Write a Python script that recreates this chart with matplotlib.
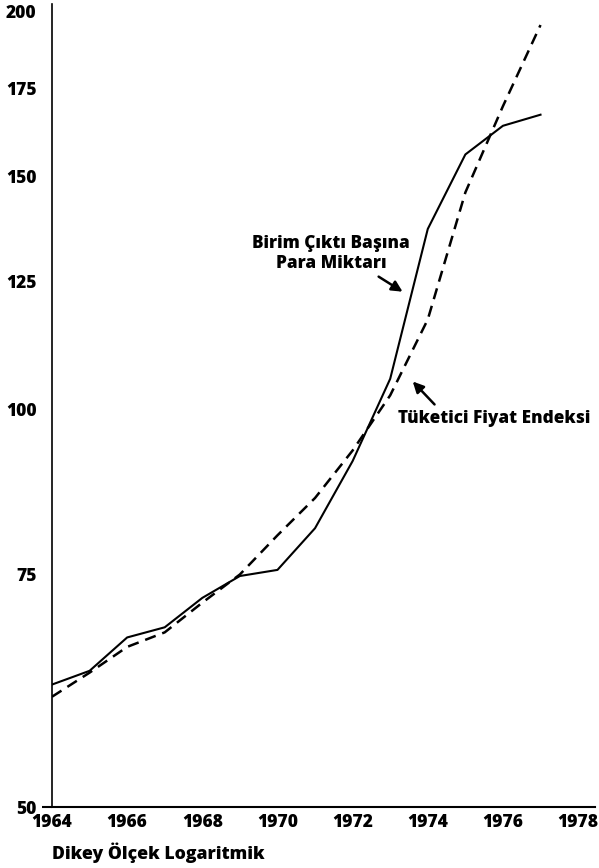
import matplotlib.pyplot as plt
from matplotlib.ticker import FixedLocator, NullLocator

plt.rcParams['font.family'] = ['Open Sans', 'DejaVu Sans']
plt.rcParams['font.weight'] = 'bold'

years = [1964, 1965, 1966, 1967, 1968, 1969, 1970, 1971, 1972, 1973, 1974, 1975, 1976, 1977]
birim_maliyet = [61.9, 63.4, 67.2, 68.4, 72.0, 74.8, 75.6, 81.3, 91.4, 105.5, 137.0, 156.0, 164.0, 167.2]
tufe = [60.6, 63.2, 66.1, 67.8, 71.4, 75.0, 80.3, 85.7, 93.1, 102.5, 117.0, 146.0, 169.7, 195.5]

x_ticks = [1964, 1966, 1968, 1970, 1972, 1974, 1976, 1978]
y_ticks = [50, 75, 100, 125, 150, 175, 200]

fig = plt.figure(figsize=(5.99, 8.68), dpi=100)
ax = fig.add_axes([52/599, 1-807/868, (595-52)/599, (807-4)/868])

ax.plot(years, birim_maliyet, color='black', lw=1.5)
ax.plot(years, tufe, color='black', lw=1.8, linestyle=(0, (4.5, 2.8)))

ax.set_yscale('log')
ax.set_ylim(50, 202.8)
ax.set_xlim(1964, 1978.45)
ax.yaxis.set_major_locator(FixedLocator(y_ticks))
ax.yaxis.set_minor_locator(NullLocator())
ax.set_yticklabels([str(v) for v in y_ticks])
ax.set_xticks(x_ticks)

for s in ['top', 'right']:
    ax.spines[s].set_visible(False)
ax.spines['left'].set_linewidth(1.2)
ax.spines['bottom'].set_linewidth(1.5)

ax.tick_params(axis='y', length=0, pad=11, labelsize=12.5)
ax.tick_params(axis='x', length=0, pad=5, labelsize=12.5)
# x ekseni 50'nin solunda biraz uzuyor
ax.yaxis.get_major_ticks()[0].tick1line.set_markersize(7)
ax.yaxis.get_major_ticks()[0].tick1line.set_markeredgewidth(1.5)
for lab in ax.get_xticklabels() + ax.get_yticklabels():
    lab.set_fontweight(800)

ax.annotate('Birim Çıktı Başına\nPara Miktarı', xy=(1973.33, 122.8), xytext=(1971.42, 131.2),
            ha='center', va='center', fontsize=12.3, fontweight=800, linespacing=1.25,
            arrowprops=dict(arrowstyle='-|>', color='black', lw=1.8, mutation_scale=16,
                            shrinkA=2, shrinkB=0, relpos=(0.76, 0.0)))
ax.annotate('Tüketici Fiyat Endeksi', xy=(1973.6, 105.0), xytext=(1975.76, 98.4),
            ha='center', va='center', fontsize=12.3, fontweight=800,
            arrowprops=dict(arrowstyle='-|>', color='black', lw=1.8, mutation_scale=16,
                            shrinkA=3, shrinkB=0, relpos=(0.22, 1.0)))

fig.text(52/599, 1-853/868, 'Dikey Ölçek Logaritmik', ha='left', va='center',
         fontsize=12.7, fontweight=800)

fig.savefig('out.png', dpi=100)
